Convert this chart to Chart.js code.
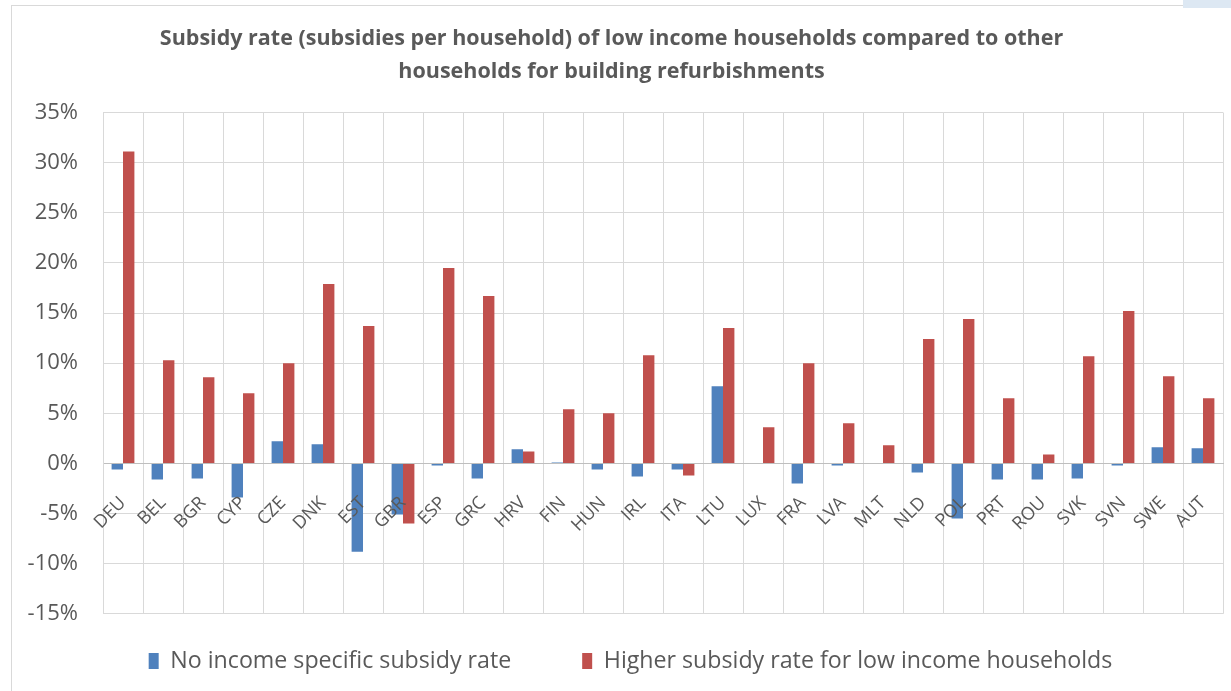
<!DOCTYPE html>
<html>
<head>
<meta charset="utf-8">
<script src="https://cdn.jsdelivr.net/npm/chart.js@4.4.1/dist/chart.umd.min.js"></script>
<style>
  html, body { margin: 0; padding: 0; background: #fff; }
  #wrap { position: relative; width: 1231px; height: 691px; }
  #frame { position: absolute; left: 11px; top: 5px; width: 1240px; height: 700px; border: 1px solid #d9d9d9; }
  #corner { position: absolute; left: 1183px; top: 0; width: 48px; height: 8px; background: #dde8f3; }
  canvas { position: absolute; left: 0; top: 0; }
</style>
</head>
<body>
<div id="wrap">
  <div id="frame"></div>
  <div id="corner"></div>
  <canvas id="subsidyChart" width="1231" height="691"></canvas>
</div>
<script>
// Countries and series (values in %)
const countries = ["DEU", "BEL", "BGR", "CYP", "CZE", "DNK", "EST", "GBR", "ESP", "GRC",
  "HRV", "FIN", "HUN", "IRL", "ITA", "LTU", "LUX", "FRA", "LVA", "MLT",
  "NLD", "POL", "PRT", "ROU", "SVK", "SVN", "SWE", "AUT"];

const noIncomeSpecific = [-0.6, -1.6, -1.5, -3.4, 2.2, 1.9, -8.8, -5.1, -0.2, -1.5,
  1.4, 0.1, -0.6, -1.3, -0.6, 7.7, 0, -2.0, -0.2, 0,
  -0.9, -5.5, -1.6, -1.6, -1.5, -0.2, 1.6, 1.5];

const higherForLowIncome = [31.1, 10.3, 8.6, 7.0, 10.0, 17.9, 13.7, -6.0, 19.5, 16.7,
  1.2, 5.4, 5.0, 10.8, -1.2, 13.5, 3.6, 10.0, 4.0, 1.8,
  12.4, 14.4, 6.5, 0.9, 10.7, 15.2, 8.7, 6.5];

const seriesNames = ["No income specific subsidy rate", "Higher subsidy rate for low income households"];
const titleLines = ["Subsidy rate (subsidies per household) of low income households compared to other",
  "households for building refurbishments"];

const textColor = "#595959";
const gridColor = "#d9d9d9";

// the legend needs wide gaps between items but sits close under the plot,
// so it is laid out with big padding and then nudged up
const legendNudge = {
  id: 'legendNudge',
  afterLayout(chart) {
    const lg = chart.legend;
    lg.top -= 35.5; lg.bottom -= 35.5;
    lg.left += 19; lg.right += 19;
  }
};

new Chart(document.getElementById("subsidyChart"), {
  type: 'bar',
  data: {
    labels: countries,
    datasets: [{
      label: seriesNames[0],
      data: noIncomeSpecific,
      backgroundColor: "#4f81bd",
      categoryPercentage: 0.57,
      barPercentage: 1.0
    }, {
      label: seriesNames[1],
      data: higherForLowIncome,
      backgroundColor: "#c0504d",
      categoryPercentage: 0.57,
      barPercentage: 1.0
    }]
  },
  plugins: [legendNudge],
  options: {
    responsive: false,
    animation: false,
    layout: {
      padding: { left: 0, right: 8, top: 0, bottom: -27 }
    },
    plugins: {
      title: {
        display: true,
        text: titleLines,
        color: textColor,
        font: { family: "Open Sans", size: 21.5, weight: 'bold', lineHeight: 1.5 },
        padding: { top: 23, bottom: 25 }
      },
      legend: {
        display: true,
        position: 'bottom',
        labels: {
          color: textColor,
          font: { family: "Open Sans", size: 23.2 },
          boxWidth: 10,
          boxHeight: 16,
          padding: 71
        }
      },
      tooltip: { enabled: false }
    },
    scales: {
      x: {
        position: { y: 0 },
        // labels hang below the zero line; keep them from squeezing the axis
        afterFit: function(scale) { scale.paddingLeft = 0; scale.paddingRight = 0; },
        grid: { color: gridColor, lineWidth: 1, offset: true, drawTicks: false },
        border: { color: '#bfbfbf', width: 1 },
        ticks: {
          z: 1,
          color: textColor,
          font: { family: "Open Sans", size: 18 },
          maxRotation: 45,
          minRotation: 45,
          autoSkip: false,
          padding: 29
        }
      },
      y: {
        min: -15,
        max: 35,
        afterFit: function(scale) { scale.width = 103; },
        grid: { color: gridColor, lineWidth: 1, drawTicks: false },
        border: { color: gridColor, width: 1 },
        ticks: {
          stepSize: 5,
          color: textColor,
          font: { family: "Open Sans", size: 22 },
          padding: 25,
          callback: function(value) { return value + '%'; }
        }
      }
    }
  }
});
</script>
</body>
</html>
